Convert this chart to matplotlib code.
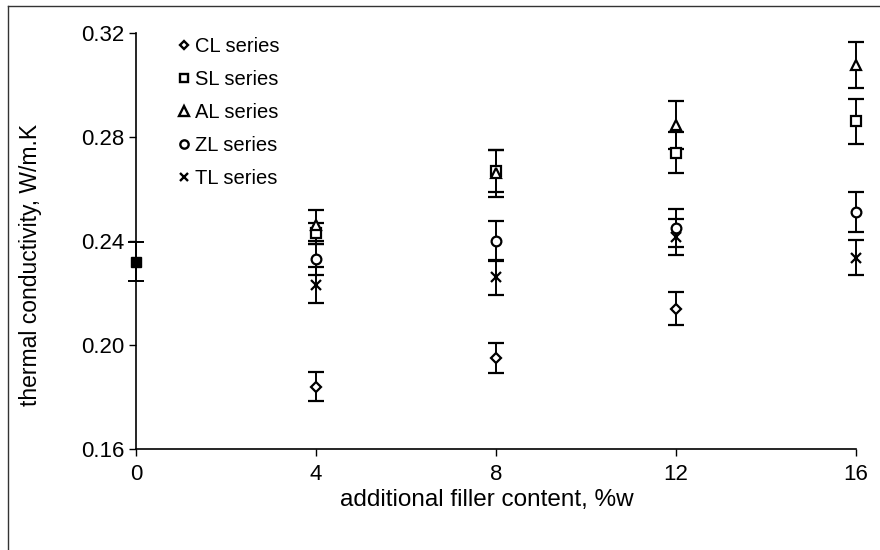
import numpy as np
import matplotlib
matplotlib.use("Agg")
import matplotlib.pyplot as plt
from matplotlib.lines import Line2D

plt.rcParams['font.family'] = ['Liberation Sans', 'DejaVu Sans']

# Datos
filler = [4, 8, 12, 16]

# punto base (0 %w), comun a todas las series
base_x = [0]
base_y = [0.232]
base_err = [0.0075]

cl_y = [0.184, 0.195, 0.214]
cl_err = [0.0055, 0.0056, 0.0062]

sl_y = [0.243, 0.267, 0.274, 0.286]
sl_err = [0.004, 0.008, 0.008, 0.0087]

al_y = [0.246, 0.266, 0.2846, 0.3077]
al_err = [0.006, 0.009, 0.0092, 0.009]

zl_y = [0.233, 0.240, 0.245, 0.2512]
zl_err = [0.006, 0.0077, 0.0073, 0.0077]

tl_y = [0.223, 0.226, 0.2415, 0.2335]
tl_err = [0.007, 0.0066, 0.0069, 0.0067]

series = [
    ("CL series", filler[:3], cl_y, cl_err, "D", 5.5),
    ("SL series", filler, sl_y, sl_err, "s", 6.5),
    ("AL series", filler, al_y, al_err, "^", 7.5),
    ("ZL series", filler, zl_y, zl_err, "o", 7),
    ("TL series", filler, tl_y, tl_err, "x", 7),
]

fig = plt.figure(figsize=(8.8, 5.5), dpi=100)
ax = fig.add_axes([0.1545, 0.1836, 0.8182, 0.7564])

# punto base relleno
ax.errorbar(base_x, base_y, yerr=base_err, fmt="s", ms=7, color="black",
            mfc="black", ecolor="black", elinewidth=1.4, capsize=6,
            capthick=1.4, clip_on=False, zorder=3)

handles = []
for nombre, xs, ys, err, mk, ms in series:
    ax.errorbar(xs, ys, yerr=err, fmt=mk, ms=ms, color="black",
                mfc="white" if mk != "x" else "black", mec="black", mew=1.6,
                ecolor="black", elinewidth=1.4, capsize=6, capthick=1.4,
                clip_on=False, zorder=3)
    handles.append(Line2D([], [], ls="none", marker=mk, ms=ms - 1,
                          mfc="white", mec="black", mew=1.7,
                          color="black", label=nombre))

ax.set_xlim(0, 16)
ax.set_ylim(0.16, 0.32)
ax.set_xticks([0, 4, 8, 12, 16])
ax.set_yticks([0.16, 0.20, 0.24, 0.28, 0.32])
ax.set_yticklabels(["0.16", "0.20", "0.24", "0.28", "0.32"])
ax.tick_params(direction="out", length=5, width=1, labelsize=16, pad=6)
ax.tick_params(axis="y", pad=3)
ax.spines["top"].set_visible(False)
ax.spines["right"].set_visible(False)
ax.spines["left"].set_linewidth(1.2)
ax.spines["bottom"].set_linewidth(1.2)

ax.set_xlabel("additional filler content, %w", fontsize=17.5)
ax.set_ylabel("thermal conductivity, W/m.K", fontsize=16.5)
ax.xaxis.set_label_coords(0.4875, -0.095)
ax.yaxis.set_label_coords(-0.13, 0.442)

ax.legend(handles=handles, loc="upper left", bbox_to_anchor=(0.04, 1.025),
          frameon=False, fontsize=14.5, handlelength=0.5, handletextpad=0.3,
          labelspacing=0.7, borderaxespad=0.3)

# marco de la figura (izquierda y arriba)
fig.add_artist(Line2D([8 / 880, 8 / 880], [0, 1 - 6 / 550],
                      transform=fig.transFigure, color="#333333", lw=1))
fig.add_artist(Line2D([8 / 880, 1], [1 - 6 / 550, 1 - 6 / 550],
                      transform=fig.transFigure, color="#333333", lw=1))

fig.savefig("out.png", dpi=100)
